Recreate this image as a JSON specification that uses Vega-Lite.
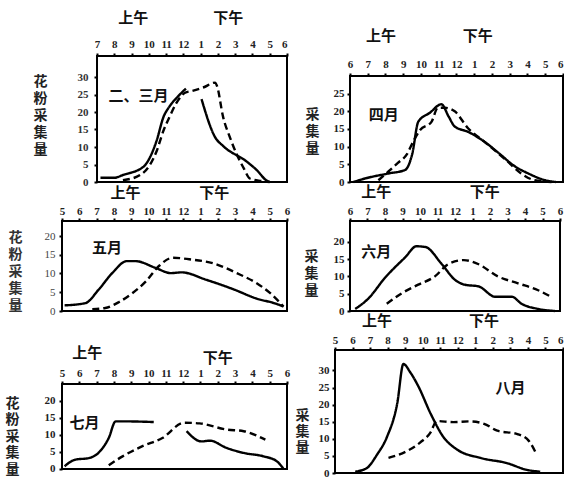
{
  "$schema": "https://vega.github.io/schema/vega-lite/v6.json",
  "padding": {"left": 5, "top": 10, "right": 0, "bottom": 0},
  "autosize": {"type": "pad"},
  "background": "white",
  "bounds": "flush",
  "columns": 2,
  "spacing": {"row": 39, "column": 48},
  "config": {"view": {"stroke": null}, "axis": {"labelOverlap": false}},
  "datasets": {
    "d": [
      {"p":1,"k":"A","s":"A1","h":7.2,"v":1.2},{"p":1,"k":"A","s":"A1","h":8.0,"v":1.2},{"p":1,"k":"A","s":"A1","h":8.5,"v":2},{"p":1,"k":"A","s":"A1","h":9.7,"v":4.4},{"p":1,"k":"A","s":"A1","h":10.05,"v":6.9},{"p":1,"k":"A","s":"A1","h":10.45,"v":11.8},{"p":1,"k":"A","s":"A1","h":10.85,"v":18.6},{"p":1,"k":"A","s":"A1","h":11.2,"v":21.6},{"p":1,"k":"A","s":"A1","h":11.7,"v":24.5},{"p":1,"k":"A","s":"A1","h":12.15,"v":26.7},
      {"p":1,"k":"A","s":"A2","h":13.05,"v":23.7},{"p":1,"k":"A","s":"A2","h":13.85,"v":12.7},{"p":1,"k":"A","s":"A2","h":14.3,"v":10.3},{"p":1,"k":"A","s":"A2","h":15.65,"v":5.9},{"p":1,"k":"A","s":"A2","h":16.25,"v":3.4},{"p":1,"k":"A","s":"A2","h":16.8,"v":0.5},{"p":1,"k":"A","s":"A2","h":17.0,"v":0},
      {"p":1,"k":"B","s":"B","h":8.5,"v":0.5},{"p":1,"k":"B","s":"B","h":9.5,"v":2},{"p":1,"k":"B","s":"B","h":10.0,"v":4.4},{"p":1,"k":"B","s":"B","h":10.45,"v":8.8},{"p":1,"k":"B","s":"B","h":10.85,"v":14.7},{"p":1,"k":"B","s":"B","h":11.2,"v":18.6},{"p":1,"k":"B","s":"B","h":11.6,"v":22.6},{"p":1,"k":"B","s":"B","h":12.1,"v":25.5},{"p":1,"k":"B","s":"B","h":12.5,"v":26},{"p":1,"k":"B","s":"B","h":13.15,"v":27},{"p":1,"k":"B","s":"B","h":13.85,"v":28.4},{"p":1,"k":"B","s":"B","h":13.95,"v":27.4},{"p":1,"k":"B","s":"B","h":14.3,"v":18.6},{"p":1,"k":"B","s":"B","h":14.7,"v":12.7},{"p":1,"k":"B","s":"B","h":15.1,"v":7.8},{"p":1,"k":"B","s":"B","h":15.5,"v":3.9},{"p":1,"k":"B","s":"B","h":15.85,"v":1},{"p":1,"k":"B","s":"B","h":16.5,"v":0.3},{"p":1,"k":"B","s":"B","h":17.0,"v":0},

      {"p":2,"k":"A","s":"A1","h":6.2,"v":0},{"p":2,"k":"A","s":"A1","h":6.85,"v":1},{"p":2,"k":"A","s":"A1","h":8.15,"v":2.4},{"p":2,"k":"A","s":"A1","h":9.1,"v":3.4},{"p":2,"k":"A","s":"A1","h":9.5,"v":7.8},{"p":2,"k":"A","s":"A1","h":9.85,"v":17.1},{"p":2,"k":"A","s":"A1","h":10.5,"v":19.6},{"p":2,"k":"A","s":"A1","h":11.15,"v":22},{"p":2,"k":"A","s":"A1","h":11.55,"v":18.6},{"p":2,"k":"A","s":"A1","h":11.9,"v":15.7},{"p":2,"k":"A","s":"A1","h":12.65,"v":14.2},{"p":2,"k":"A","s":"A1","h":13.6,"v":11.3},{"p":2,"k":"A","s":"A1","h":14.35,"v":8.3},{"p":2,"k":"A","s":"A1","h":15.3,"v":4.4},{"p":2,"k":"A","s":"A1","h":16.05,"v":2.4},{"p":2,"k":"A","s":"A1","h":17.0,"v":0.5},{"p":2,"k":"A","s":"A1","h":17.6,"v":0},
      {"p":2,"k":"B","s":"B","h":7.6,"v":0.5},{"p":2,"k":"B","s":"B","h":8.15,"v":2.9},{"p":2,"k":"B","s":"B","h":8.7,"v":5.4},{"p":2,"k":"B","s":"B","h":9.2,"v":7.8},{"p":2,"k":"B","s":"B","h":9.55,"v":11.3},{"p":2,"k":"B","s":"B","h":9.95,"v":14.7},{"p":2,"k":"B","s":"B","h":10.6,"v":17.1},{"p":2,"k":"B","s":"B","h":10.95,"v":21},{"p":2,"k":"B","s":"B","h":11.35,"v":21},{"p":2,"k":"B","s":"B","h":11.9,"v":20},{"p":2,"k":"B","s":"B","h":12.65,"v":15.2},{"p":2,"k":"B","s":"B","h":13.6,"v":11.3},{"p":2,"k":"B","s":"B","h":14.75,"v":6.4},{"p":2,"k":"B","s":"B","h":15.65,"v":2.4},{"p":2,"k":"B","s":"B","h":16.4,"v":0.5},{"p":2,"k":"B","s":"B","h":17.35,"v":0},

      {"p":3,"k":"A","s":"A1","h":5.15,"v":1.5},{"p":3,"k":"A","s":"A1","h":6.35,"v":2.1},{"p":3,"k":"A","s":"A1","h":7.1,"v":5.6},{"p":3,"k":"A","s":"A1","h":7.9,"v":10.1},{"p":3,"k":"A","s":"A1","h":8.75,"v":13.3},{"p":3,"k":"A","s":"A1","h":9.25,"v":13.3},{"p":3,"k":"A","s":"A1","h":10.4,"v":11.5},{"p":3,"k":"A","s":"A1","h":11.3,"v":10.1},{"p":3,"k":"A","s":"A1","h":11.9,"v":10.3},{"p":3,"k":"A","s":"A1","h":13.35,"v":8.3},{"p":3,"k":"A","s":"A1","h":14.9,"v":5.8},{"p":3,"k":"A","s":"A1","h":16.25,"v":3.3},{"p":3,"k":"A","s":"A1","h":17.25,"v":2.1},{"p":3,"k":"A","s":"A1","h":17.8,"v":1.2},
      {"p":3,"k":"B","s":"B","h":6.75,"v":0.5},{"p":3,"k":"B","s":"B","h":7.5,"v":0.8},{"p":3,"k":"B","s":"B","h":8.3,"v":2.4},{"p":3,"k":"B","s":"B","h":9.05,"v":4.7},{"p":3,"k":"B","s":"B","h":9.85,"v":7.9},{"p":3,"k":"B","s":"B","h":10.6,"v":12},{"p":3,"k":"B","s":"B","h":11.4,"v":14.2},{"p":3,"k":"B","s":"B","h":12.35,"v":13.8},{"p":3,"k":"B","s":"B","h":13.75,"v":12.7},{"p":3,"k":"B","s":"B","h":15.1,"v":10.1},{"p":3,"k":"B","s":"B","h":16.25,"v":7.4},{"p":3,"k":"B","s":"B","h":17.05,"v":4.7},{"p":3,"k":"B","s":"B","h":17.8,"v":1.2},

      {"p":4,"k":"A","s":"A1","h":6.3,"v":0.6},{"p":4,"k":"A","s":"A1","h":7.05,"v":3.6},{"p":4,"k":"A","s":"A1","h":8.0,"v":9.6},{"p":4,"k":"A","s":"A1","h":9.15,"v":15.5},{"p":4,"k":"A","s":"A1","h":9.8,"v":18.7},{"p":4,"k":"A","s":"A1","h":10.3,"v":18.5},{"p":4,"k":"A","s":"A1","h":11.25,"v":13.5},{"p":4,"k":"A","s":"A1","h":12.0,"v":9},{"p":4,"k":"A","s":"A1","h":12.55,"v":7.6},{"p":4,"k":"A","s":"A1","h":13.35,"v":7.1},{"p":4,"k":"A","s":"A1","h":14.3,"v":4.1},{"p":4,"k":"A","s":"A1","h":15.25,"v":4.1},{"p":4,"k":"A","s":"A1","h":15.8,"v":2.1},{"p":4,"k":"A","s":"A1","h":16.75,"v":0.6},{"p":4,"k":"A","s":"A1","h":17.7,"v":0},
      {"p":4,"k":"B","s":"B","h":8.1,"v":2.1},{"p":4,"k":"B","s":"B","h":8.95,"v":5.1},{"p":4,"k":"B","s":"B","h":9.9,"v":7.6},{"p":4,"k":"B","s":"B","h":10.85,"v":10},{"p":4,"k":"B","s":"B","h":11.6,"v":13.5},{"p":4,"k":"B","s":"B","h":12.5,"v":14.7},{"p":4,"k":"B","s":"B","h":13.35,"v":13.5},{"p":4,"k":"B","s":"B","h":14.45,"v":10},{"p":4,"k":"B","s":"B","h":15.6,"v":8},{"p":4,"k":"B","s":"B","h":16.75,"v":6},{"p":4,"k":"B","s":"B","h":17.5,"v":4.1},

      {"p":5,"k":"A","s":"A1","h":5.15,"v":0.8},{"p":5,"k":"A","s":"A1","h":5.75,"v":2.7},{"p":5,"k":"A","s":"A1","h":6.55,"v":3.2},{"p":5,"k":"A","s":"A1","h":7.1,"v":4.7},{"p":5,"k":"A","s":"A1","h":7.7,"v":9.1},{"p":5,"k":"A","s":"A1","h":8.1,"v":14},{"p":5,"k":"A","s":"A1","h":8.5,"v":14},{"p":5,"k":"A","s":"A1","h":10.3,"v":13.8},
      {"p":5,"k":"A","s":"A2","h":12.2,"v":11.1},{"p":5,"k":"A","s":"A2","h":13.05,"v":8.1},{"p":5,"k":"A","s":"A2","h":13.55,"v":8.3},{"p":5,"k":"A","s":"A2","h":14.5,"v":6.2},{"p":5,"k":"A","s":"A2","h":15.5,"v":4.7},{"p":5,"k":"A","s":"A2","h":16.65,"v":3.7},{"p":5,"k":"A","s":"A2","h":17.4,"v":2.3},{"p":5,"k":"A","s":"A2","h":17.8,"v":0},
      {"p":5,"k":"B","s":"B","h":7.7,"v":1.1},{"p":5,"k":"B","s":"B","h":8.5,"v":3.7},{"p":5,"k":"B","s":"B","h":9.65,"v":6.7},{"p":5,"k":"B","s":"B","h":10.8,"v":9.1},{"p":5,"k":"B","s":"B","h":12.05,"v":13.6},{"p":5,"k":"B","s":"B","h":12.95,"v":13.4},{"p":5,"k":"B","s":"B","h":14.5,"v":11.6},{"p":5,"k":"B","s":"B","h":15.5,"v":11.1},{"p":5,"k":"B","s":"B","h":16.75,"v":8.6},

      {"p":6,"k":"A","s":"A1","h":6.15,"v":0.4},{"p":6,"k":"A","s":"A1","h":6.8,"v":1.4},{"p":6,"k":"A","s":"A1","h":7.4,"v":5.4},{"p":6,"k":"A","s":"A1","h":7.95,"v":10.4},{"p":6,"k":"A","s":"A1","h":8.55,"v":20.4},{"p":6,"k":"A","s":"A1","h":8.9,"v":31.9},{"p":6,"k":"A","s":"A1","h":9.3,"v":29.4},{"p":6,"k":"A","s":"A1","h":9.75,"v":25.4},{"p":6,"k":"A","s":"A1","h":10.45,"v":17.4},{"p":6,"k":"A","s":"A1","h":11.2,"v":10.4},{"p":6,"k":"A","s":"A1","h":11.95,"v":6.9},{"p":6,"k":"A","s":"A1","h":13.3,"v":4.4},{"p":6,"k":"A","s":"A1","h":14.8,"v":2.9},{"p":6,"k":"A","s":"A1","h":15.95,"v":0.9},{"p":6,"k":"A","s":"A1","h":16.7,"v":0.4},
      {"p":6,"k":"B","s":"B","h":8.05,"v":4.4},{"p":6,"k":"B","s":"B","h":9.1,"v":6.4},{"p":6,"k":"B","s":"B","h":9.85,"v":8.9},{"p":6,"k":"B","s":"B","h":10.45,"v":11.9},{"p":6,"k":"B","s":"B","h":10.8,"v":15.2},{"p":6,"k":"B","s":"B","h":11.75,"v":14.9},{"p":6,"k":"B","s":"B","h":12.7,"v":15.1},{"p":6,"k":"B","s":"B","h":13.5,"v":14.4},{"p":6,"k":"B","s":"B","h":14.25,"v":12.4},{"p":6,"k":"B","s":"B","h":15.4,"v":11.4},{"p":6,"k":"B","s":"B","h":16.05,"v":9.4},{"p":6,"k":"B","s":"B","h":16.5,"v":5.4}
    ]
  },
  "concat": [
    {
      "width": 225, "height": 126,
      "layer": [
        {
          "data": {"name": "d"},
          "transform": [{"filter": "datum.p == 1"}],
          "mark": {"type": "line", "interpolate": "monotone", "strokeWidth": 2.4, "color": "black"},
          "encoding": {
            "x": {"field": "h", "type": "quantitative", "scale": {"domain": [4.973, 18], "nice": false, "zero": false},
              "axis": {"orient": "top", "tickCount": 13, "labelExpr": "datum.value < 7 ? '' : (datum.value > 12 ? datum.value - 12 : datum.value)", "tickOpacity": {"condition": {"test": "datum.value < 7", "value": 0}, "value": 1}, "labelAlign": {"condition": {"test": "datum.value == 18", "value": "right"}, "value": "center"}, "title": null, "grid": false, "domain": false, "tickSize": 3, "tickWidth": 2, "tickColor": "black", "labelFont": "Liberation Serif", "labelFontSize": 11, "labelFontWeight": "bold", "labelColor": "#222", "labelPadding": 4, "labelFlush": false, "labelOverlap": false}},
            "y": {"field": "v", "type": "quantitative", "scale": {"domain": [0, 36], "nice": false},
              "axis": {"offset": -35, "tickCount": 7, "labelExpr": "datum.value > 30 ? '' : datum.label", "tickOpacity": {"condition": {"test": "datum.value > 30", "value": 0}, "value": 1}, "grid": false, "domain": false, "tickSize": 3, "tickWidth": 2, "tickColor": "black", "labelFont": "Liberation Serif", "labelFontSize": 11, "labelFontWeight": "bold", "labelColor": "#333", "labelPadding": 6, "labelOverlap": false,
                "title": ["花","粉","采","集","量"], "titleAngle": 0, "titleX": -57, "titleY": 25, "titleAlign": "center", "titleBaseline": "middle", "titleFont": "Noto Sans CJK SC", "titleFontSize": 14, "titleFontWeight": "bold", "titleLineHeight": 17, "titleColor": "#222"}},
            "detail": {"field": "s"},
            "strokeDash": {"field": "k", "type": "nominal", "scale": {"domain": ["A", "B"], "range": [[1, 0], [7, 4]]}, "legend": null}
          }
        },
        {"data": {"values": [{}]}, "mark": {"type": "rect", "fill": null, "stroke": "black", "strokeWidth": 2},
         "encoding": {"x": {"datum": 7}, "x2": {"datum": 18}, "y": {"datum": 0}, "y2": {"datum": 36}}},
        {"data": {"values": [{}]}, "mark": {"type": "text", "font": "Noto Sans CJK SC", "fontSize": 15, "fontWeight": "bold", "color": "#111"}, "encoding": {"x": {"datum": 9.1}, "y": {"datum": 47}, "text": {"value": "上午"}}},
        {"data": {"values": [{}]}, "mark": {"type": "text", "font": "Noto Sans CJK SC", "fontSize": 15, "fontWeight": "bold", "color": "#111"}, "encoding": {"x": {"datum": 14.6}, "y": {"datum": 47}, "text": {"value": "下午"}}},
        {"data": {"values": [{}]}, "mark": {"type": "text", "font": "Noto Sans CJK SC", "fontSize": 15, "fontWeight": "bold", "color": "#111"}, "encoding": {"x": {"datum": 9.4}, "y": {"datum": 24.6}, "text": {"value": "二、三月"}}}
      ]
    },
    {
      "width": 228, "height": 126,
      "layer": [
        {
          "data": {"name": "d"},
          "transform": [{"filter": "datum.p == 2"}],
          "mark": {"type": "line", "interpolate": "monotone", "strokeWidth": 2.4, "color": "black"},
          "encoding": {
            "x": {"field": "h", "type": "quantitative", "scale": {"domain": [5.155, 18], "nice": false, "zero": false},
              "axis": {"orient": "top", "offset": -20, "tickCount": 13, "labelExpr": "datum.value > 12 ? datum.value - 12 : datum.value", "labelAlign": {"condition": {"test": "datum.value == 18", "value": "right"}, "value": "center"}, "title": null, "grid": false, "domain": false, "tickSize": 3, "tickWidth": 2, "tickColor": "black", "labelFont": "Liberation Serif", "labelFontSize": 11, "labelFontWeight": "bold", "labelColor": "#222", "labelPadding": 4, "labelFlush": false, "labelOverlap": false}},
            "y": {"field": "v", "type": "quantitative", "scale": {"domain": [0, 35.66], "nice": false},
              "axis": {"offset": -15, "tickCount": 7, "labelExpr": "datum.value > 25 ? '' : datum.label", "tickOpacity": {"condition": {"test": "datum.value > 25", "value": 0}, "value": 1}, "grid": false, "domain": false, "tickSize": 3, "tickWidth": 2, "tickColor": "black", "labelFont": "Liberation Serif", "labelFontSize": 11, "labelFontWeight": "bold", "labelColor": "#222", "labelPadding": 3, "labelOverlap": false,
                "title": ["采","集","量"], "titleAngle": 0, "titleX": -38, "titleY": 58, "titleAlign": "center", "titleBaseline": "middle", "titleFont": "Noto Sans CJK SC", "titleFontSize": 14, "titleFontWeight": "bold", "titleLineHeight": 17, "titleColor": "#222"}},
            "detail": {"field": "s"},
            "strokeDash": {"field": "k", "type": "nominal", "scale": {"domain": ["A", "B"], "range": [[1, 0], [7, 4]]}, "legend": null}
          }
        },
        {"data": {"values": [{}]}, "mark": {"type": "rect", "fill": null, "stroke": "black", "strokeWidth": 2},
         "encoding": {"x": {"datum": 6}, "x2": {"datum": 18}, "y": {"datum": 0}, "y2": {"datum": 30}}},
        {"data": {"values": [{}]}, "mark": {"type": "text", "font": "Noto Sans CJK SC", "fontSize": 15, "fontWeight": "bold", "color": "#111"}, "encoding": {"x": {"datum": 7.75}, "y": {"datum": 41.4}, "text": {"value": "上午"}}},
        {"data": {"values": [{}]}, "mark": {"type": "text", "font": "Noto Sans CJK SC", "fontSize": 15, "fontWeight": "bold", "color": "#111"}, "encoding": {"x": {"datum": 13.2}, "y": {"datum": 41.4}, "text": {"value": "下午"}}},
        {"data": {"values": [{}]}, "mark": {"type": "text", "font": "Noto Sans CJK SC", "fontSize": 15, "fontWeight": "bold", "color": "#111"}, "encoding": {"x": {"datum": 7.9}, "y": {"datum": 19.1}, "text": {"value": "四月"}}}
      ]
    },
    {
      "width": 225, "height": 90,
      "layer": [
        {
          "data": {"name": "d"},
          "transform": [{"filter": "datum.p == 3"}],
          "mark": {"type": "line", "interpolate": "monotone", "strokeWidth": 2.4, "color": "black"},
          "encoding": {
            "x": {"field": "h", "type": "quantitative", "scale": {"domain": [5, 18], "nice": false, "zero": false},
              "axis": {"orient": "top", "tickCount": 13, "labelExpr": "datum.value > 12 ? datum.value - 12 : datum.value", "title": null, "grid": false, "domain": false, "tickSize": 3, "tickWidth": 2, "tickColor": "black", "labelFont": "Liberation Serif", "labelFontSize": 11, "labelFontWeight": "bold", "labelColor": "#222", "labelPadding": 2, "labelFlush": false, "labelOverlap": false}},
            "y": {"field": "v", "type": "quantitative", "scale": {"domain": [0, 24], "nice": false},
              "axis": {"tickCount": 5, "grid": false, "domain": false, "tickSize": 3, "tickWidth": 2, "tickColor": "black", "labelFont": "Liberation Serif", "labelFontSize": 11, "labelColor": "#444", "labelPadding": 4, "labelOverlap": false,
                "title": ["花","粉","采","集","量"], "titleAngle": 0, "titleX": -47, "titleY": 16, "titleAlign": "center", "titleBaseline": "middle", "titleFont": "Noto Sans CJK SC", "titleFontSize": 14, "titleFontWeight": "bold", "titleLineHeight": 17, "titleColor": "#333"}},
            "detail": {"field": "s"},
            "strokeDash": {"field": "k", "type": "nominal", "scale": {"domain": ["A", "B"], "range": [[1, 0], [7, 4]]}, "legend": null}
          }
        },
        {"data": {"values": [{}]}, "mark": {"type": "rect", "fill": null, "stroke": "black", "strokeWidth": 2},
         "encoding": {"x": {"datum": 5}, "x2": {"datum": 18}, "y": {"datum": 0}, "y2": {"datum": 24}}},
        {"data": {"values": [{}]}, "mark": {"type": "text", "font": "Noto Sans CJK SC", "fontSize": 15, "fontWeight": "bold", "color": "#111"}, "encoding": {"x": {"datum": 8.67}, "y": {"datum": 31.6}, "text": {"value": "上午"}}},
        {"data": {"values": [{}]}, "mark": {"type": "text", "font": "Noto Sans CJK SC", "fontSize": 15, "fontWeight": "bold", "color": "#111"}, "encoding": {"x": {"datum": 13.8}, "y": {"datum": 31.6}, "text": {"value": "下午"}}},
        {"data": {"values": [{}]}, "mark": {"type": "text", "font": "Noto Sans CJK SC", "fontSize": 15, "fontWeight": "bold", "color": "#111"}, "encoding": {"x": {"datum": 7.6}, "y": {"datum": 16.8}, "text": {"value": "五月"}}}
      ]
    },
    {
      "width": 228, "height": 90,
      "layer": [
        {
          "data": {"name": "d"},
          "transform": [{"filter": "datum.p == 4"}],
          "mark": {"type": "line", "interpolate": "monotone", "strokeWidth": 2.4, "color": "black"},
          "encoding": {
            "x": {"field": "h", "type": "quantitative", "scale": {"domain": [5.143, 18.171], "nice": false, "zero": false},
              "axis": {"orient": "top", "tickCount": 13, "labelExpr": "datum.value > 12 ? datum.value - 12 : datum.value", "title": null, "grid": false, "domain": false, "tickSize": 3, "tickWidth": 2, "tickColor": "black", "labelFont": "Liberation Serif", "labelFontSize": 11, "labelFontWeight": "bold", "labelColor": "#222", "labelPadding": 2, "labelFlush": false, "labelOverlap": false}},
            "y": {"field": "v", "type": "quantitative", "scale": {"domain": [0, 26], "nice": false},
              "axis": {"offset": -15, "tickCount": 5, "labelExpr": "datum.value > 20 ? '' : datum.label", "tickOpacity": {"condition": {"test": "datum.value > 20", "value": 0}, "value": 1}, "grid": false, "domain": false, "tickSize": 3, "tickWidth": 2, "tickColor": "black", "labelFont": "Liberation Serif", "labelFontSize": 11, "labelFontWeight": "bold", "labelColor": "#222", "labelPadding": 3, "labelOverlap": false,
                "title": ["采","集","量"], "titleAngle": 0, "titleX": -39, "titleY": 35, "titleAlign": "center", "titleBaseline": "middle", "titleFont": "Noto Sans CJK SC", "titleFontSize": 14, "titleFontWeight": "bold", "titleLineHeight": 17, "titleColor": "#222"}},
            "detail": {"field": "s"},
            "strokeDash": {"field": "k", "type": "nominal", "scale": {"domain": ["A", "B"], "range": [[1, 0], [7, 4]]}, "legend": null}
          }
        },
        {"data": {"values": [{}]}, "mark": {"type": "rect", "fill": null, "stroke": "black", "strokeWidth": 2},
         "encoding": {"x": {"datum": 6}, "x2": {"datum": 18}, "y": {"datum": 0}, "y2": {"datum": 26}}},
        {"data": {"values": [{}]}, "mark": {"type": "text", "font": "Noto Sans CJK SC", "fontSize": 15, "fontWeight": "bold", "color": "#111"}, "encoding": {"x": {"datum": 7.5}, "y": {"datum": 34.4}, "text": {"value": "上午"}}},
        {"data": {"values": [{}]}, "mark": {"type": "text", "font": "Noto Sans CJK SC", "fontSize": 15, "fontWeight": "bold", "color": "#111"}, "encoding": {"x": {"datum": 13.7}, "y": {"datum": 34.4}, "text": {"value": "下午"}}},
        {"data": {"values": [{}]}, "mark": {"type": "text", "font": "Noto Sans CJK SC", "fontSize": 15, "fontWeight": "bold", "color": "#111"}, "encoding": {"x": {"datum": 7.5}, "y": {"datum": 17}, "text": {"value": "六月"}}}
      ]
    },
    {
      "width": 225, "height": 123,
      "layer": [
        {
          "data": {"name": "d"},
          "transform": [{"filter": "datum.p == 5"}],
          "mark": {"type": "line", "interpolate": "monotone", "strokeWidth": 2.4, "color": "black"},
          "encoding": {
            "x": {"field": "h", "type": "quantitative", "scale": {"domain": [5, 18], "nice": false, "zero": false},
              "axis": {"orient": "top", "offset": -34, "tickCount": 13, "labelExpr": "datum.value > 12 ? datum.value - 12 : datum.value", "title": null, "grid": false, "domain": false, "tickSize": 3, "tickWidth": 2, "tickColor": "black", "labelFont": "Liberation Serif", "labelFontSize": 11, "labelFontWeight": "bold", "labelColor": "#222", "labelPadding": 3, "labelFlush": false, "labelOverlap": false}},
            "y": {"field": "v", "type": "quantitative", "scale": {"domain": [-1.2, 35], "nice": false, "zero": false},
              "axis": {"tickCount": 7, "labelExpr": "datum.value > 20 ? '' : datum.label", "tickOpacity": {"condition": {"test": "datum.value > 20", "value": 0}, "value": 1}, "grid": false, "domain": false, "tickSize": 3, "tickWidth": 2, "tickColor": "black", "labelFont": "Liberation Serif", "labelFontSize": 11, "labelFontWeight": "bold", "labelColor": "#222", "labelPadding": 4, "labelOverlap": false,
                "title": ["花","粉","采","集","量"], "titleAngle": 0, "titleX": -50, "titleY": 53, "titleAlign": "center", "titleBaseline": "middle", "titleFont": "Noto Sans CJK SC", "titleFontSize": 14, "titleFontWeight": "bold", "titleLineHeight": 16.5, "titleColor": "#222"}},
            "detail": {"field": "s"},
            "strokeDash": {"field": "k", "type": "nominal", "scale": {"domain": ["A", "B"], "range": [[1, 0], [7, 4]]}, "legend": null}
          }
        },
        {"data": {"values": [{}]}, "mark": {"type": "rect", "fill": null, "stroke": "black", "strokeWidth": 2},
         "encoding": {"x": {"datum": 5}, "x2": {"datum": 18}, "y": {"datum": 0}, "y2": {"datum": 25}}},
        {"data": {"values": [{}]}, "mark": {"type": "text", "font": "Noto Sans CJK SC", "fontSize": 15, "fontWeight": "bold", "color": "#111"}, "encoding": {"x": {"datum": 6.46}, "y": {"datum": 34.1}, "text": {"value": "上午"}}},
        {"data": {"values": [{}]}, "mark": {"type": "text", "font": "Noto Sans CJK SC", "fontSize": 15, "fontWeight": "bold", "color": "#111"}, "encoding": {"x": {"datum": 14.0}, "y": {"datum": 32.6}, "text": {"value": "下午"}}},
        {"data": {"values": [{}]}, "mark": {"type": "text", "font": "Noto Sans CJK SC", "fontSize": 15, "fontWeight": "bold", "color": "#111"}, "encoding": {"x": {"datum": 6.3}, "y": {"datum": 13.5}, "text": {"value": "七月"}}}
      ]
    },
    {
      "width": 228, "height": 123,
      "layer": [
        {
          "data": {"name": "d"},
          "transform": [{"filter": "datum.p == 6"}],
          "mark": {"type": "line", "interpolate": "monotone", "strokeWidth": 2.4, "color": "black"},
          "encoding": {
            "x": {"field": "h", "type": "quantitative", "scale": {"domain": [5, 18], "nice": false, "zero": false},
              "axis": {"orient": "top", "tickCount": 13, "labelExpr": "datum.value > 12 ? datum.value - 12 : datum.value", "labelAlign": {"condition": {"test": "datum.value == 18", "value": "right"}, "value": "center"}, "title": null, "grid": false, "domain": false, "tickSize": 3, "tickWidth": 2, "tickColor": "black", "labelFont": "Liberation Serif", "labelFontSize": 11, "labelFontWeight": "bold", "labelColor": "#222", "labelPadding": 2, "labelFlush": false, "labelOverlap": false}},
            "y": {"field": "v", "type": "quantitative", "scale": {"domain": [0, 36], "nice": false},
              "axis": {"tickCount": 7, "labelExpr": "datum.value > 30 ? '' : datum.label", "tickOpacity": {"condition": {"test": "datum.value > 30", "value": 0}, "value": 1}, "grid": false, "domain": false, "tickSize": 3, "tickWidth": 2, "tickColor": "black", "labelFont": "Liberation Serif", "labelFontSize": 11, "labelFontWeight": "bold", "labelColor": "#222", "labelPadding": 3, "labelOverlap": false,
                "title": ["采","集","量"], "titleAngle": 0, "titleX": -33, "titleY": 65, "titleAlign": "center", "titleBaseline": "middle", "titleFont": "Noto Sans CJK SC", "titleFontSize": 14, "titleFontWeight": "bold", "titleLineHeight": 16, "titleColor": "#222"}},
            "detail": {"field": "s"},
            "strokeDash": {"field": "k", "type": "nominal", "scale": {"domain": ["A", "B"], "range": [[1, 0], [7, 4]]}, "legend": null}
          }
        },
        {"data": {"values": [{}]}, "mark": {"type": "rect", "fill": null, "stroke": "black", "strokeWidth": 2},
         "encoding": {"x": {"datum": 5}, "x2": {"datum": 18}, "y": {"datum": 0}, "y2": {"datum": 36}}},
        {"data": {"values": [{}]}, "mark": {"type": "text", "font": "Noto Sans CJK SC", "fontSize": 15, "fontWeight": "bold", "color": "#111"}, "encoding": {"x": {"datum": 7.4}, "y": {"datum": 44.5}, "text": {"value": "上午"}}},
        {"data": {"values": [{}]}, "mark": {"type": "text", "font": "Noto Sans CJK SC", "fontSize": 15, "fontWeight": "bold", "color": "#111"}, "encoding": {"x": {"datum": 13.5}, "y": {"datum": 44.5}, "text": {"value": "下午"}}},
        {"data": {"values": [{}]}, "mark": {"type": "text", "font": "Noto Sans CJK SC", "fontSize": 15, "fontWeight": "bold", "color": "#111"}, "encoding": {"x": {"datum": 15.0}, "y": {"datum": 24.9}, "text": {"value": "八月"}}}
      ]
    }
  ]
}
